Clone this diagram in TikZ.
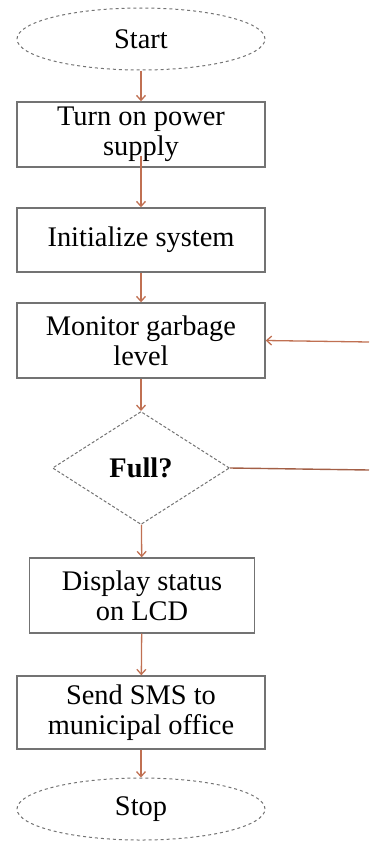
\documentclass[tikz,border=0pt]{standalone}
\usepackage{fontspec}
\setmainfont{Liberation Serif}
\usetikzlibrary{shapes.geometric,arrows.meta}
\definecolor{arr}{RGB}{192,112,82}
\definecolor{edge}{RGB}{115,115,115}
\tikzset{
  x=1bp,y=-1bp,
  every node/.style={font=\fontsize{28.5}{30}\selectfont, align=center, text=black},
  term/.style={ellipse, draw=edge, dashed, line width=1bp, minimum width=248bp, minimum height=62bp, inner sep=0pt},
  proc/.style={rectangle, draw=edge, line width=1.4bp, minimum width=248bp, inner sep=0pt},
  dec/.style={diamond, draw=edge, dash pattern=on 3bp off 2bp, line width=1bp, minimum width=177bp, minimum height=113bp, inner sep=0pt, aspect=1.57},
  flow/.style={draw=arr, line width=1.3bp, -{Straight Barb[length=5bp,width=9bp]}},
  plain/.style={draw=arr!85!black, line width=1.4bp}
}
\begin{document}
\begin{tikzpicture}
\useasboundingbox (0,0) rectangle (369,844);
\node[term] (start) at (141,39) {Start};
\node[proc, minimum height=65bp] (power) at (141,134.5) {Turn on power\\supply};
\node[proc, minimum height=64bp] (init) at (141,240) {Initialize system};
\node[proc, minimum height=75bp] (mon) at (141,340.5) {Monitor garbage\\level};
\node[dec] (full) at (141,468) {\textbf{Full?}};
\node[proc, minimum width=225bp, minimum height=75bp] (disp) at (142,595.5) {Display status\\on LCD};
\node[proc, minimum height=73bp] (sms) at (141,712.5) {Send SMS to\\municipal office};
\node[term] (stop) at (141,809) {Stop};
\coordinate (r1) at (369,342);
\coordinate (r2) at (369,470);
\draw[flow] (start) -- (power);
\draw[flow] ([yshift=12bp]power.south) -- (init);
\draw[flow] (init) -- (mon);
\draw[flow] (mon) -- (full);
\draw[flow] (full) -- (disp);
\draw[flow] (disp) -- (sms);
\draw[flow] (sms) -- (stop);
\draw[flow] (r1) -- (mon.east);
\draw[plain] (full.east) -- (r2);
\end{tikzpicture}
\end{document}
